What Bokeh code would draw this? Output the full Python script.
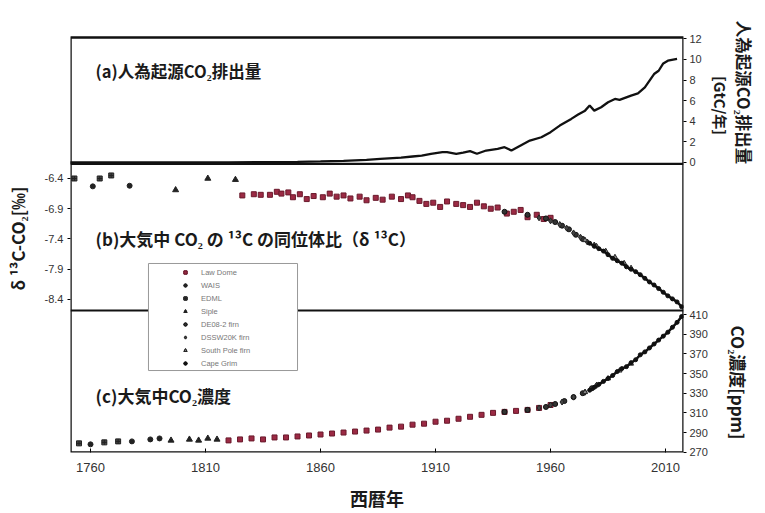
import math
from bokeh.plotting import figure
from bokeh.layouts import row
from bokeh.models import (Range1d, LinearAxis, FixedTicker, CustomJSTickFormatter,
                          PrintfTickFormatter, Span, BoxAnnotation, Label, Legend, LegendItem)
from bokeh.embed import file_html
from bokeh.resources import INLINE

# ---------------- data ----------------
# (a) anthropogenic CO2 emissions [GtC/yr]
em_years = [1751, 1780, 1800, 1820, 1840, 1850, 1860, 1870, 1880, 1886, 1895, 1900, 1904,
            1908, 1913, 1915, 1919, 1922, 1925, 1928, 1932, 1937, 1940, 1943, 1947, 1951,
            1956, 1960, 1964, 1969, 1972, 1975, 1977, 1979, 1982, 1985, 1988, 1990, 1995,
            1998, 2001, 2005, 2007, 2009, 2011, 2015]
em_vals = [0.0, 0.01, 0.01, 0.02, 0.04, 0.06, 0.10, 0.15, 0.25, 0.36, 0.48, 0.58, 0.66,
           0.84, 1.00, 1.00, 0.84, 0.95, 1.10, 0.85, 1.16, 1.32, 1.48, 1.16, 1.65, 2.13,
           2.45, 2.94, 3.58, 4.23, 4.65, 5.03, 5.52, 5.03, 5.36, 5.84, 6.16, 6.07, 6.49,
           6.71, 7.29, 8.58, 8.90, 9.61, 9.87, 10.04]

series_names = ["Law Dome", "WAIS", "EDML", "Siple", "DE08-2 firn", "DSSW20K firn",
                "South Pole firn", "Cape Grim"]

# (b) delta 13C of atmospheric CO2 [permil]
d13_years = {
    "Law Dome": [1826, 1831, 1834, 1838, 1841, 1843, 1846, 1848, 1851, 1854, 1857, 1861, 1864,
                 1867, 1870, 1873, 1877, 1880, 1884, 1887, 1891, 1895, 1898, 1900, 1903, 1906,
                 1909, 1912, 1915, 1919, 1922, 1925, 1928, 1931, 1934, 1937, 1941, 1944, 1947,
                 1950, 1954, 1957, 1960],
    "WAIS": [1761, 1777],
    "EDML": [1753, 1764, 1769],
    "Siple": [1797, 1811, 1823],
    "DE08-2 firn": [1940, 1950, 1958, 1962, 1965, 1968, 1971, 1974],
    "DSSW20K firn": [1955, 1960, 1964, 1967, 1970, 1973, 1976, 1979],
    "South Pole firn": [1975, 1980, 1984, 1988, 1992, 1995],
    "Cape Grim": [1977, 1979, 1981, 1983, 1985, 1987, 1989, 1991, 1993, 1995, 1997, 1999,
                  2001, 2003, 2005, 2007, 2009, 2011, 2013, 2015, 2017],
}
d13_vals = {
    "Law Dome": [-6.68, -6.66, -6.67, -6.67, -6.62, -6.65, -6.63, -6.71, -6.66, -6.74, -6.69,
                 -6.71, -6.65, -6.70, -6.68, -6.73, -6.70, -6.76, -6.72, -6.75, -6.70, -6.74,
                 -6.68, -6.71, -6.77, -6.82, -6.80, -6.87, -6.78, -6.82, -6.84, -6.87, -6.80,
                 -6.86, -6.90, -6.88, -6.98, -6.95, -6.92, -7.04, -7.00, -7.07, -7.05],
    "WAIS": [-6.53, -6.52],
    "EDML": [-6.40, -6.40, -6.35],
    "Siple": [-6.59, -6.40, -6.42],
    "DE08-2 firn": [-6.95, -7.00, -7.06, -7.12, -7.18, -7.24, -7.33, -7.40],
    "DSSW20K firn": [-7.05, -7.10, -7.16, -7.22, -7.30, -7.37, -7.45, -7.50],
    "South Pole firn": [-7.42, -7.52, -7.60, -7.70, -7.80, -7.88],
    "Cape Grim": [-7.47, -7.52, -7.56, -7.60, -7.66, -7.72, -7.76, -7.80, -7.86, -7.90, -7.94,
                  -7.99, -8.05, -8.11, -8.16, -8.22, -8.28, -8.34, -8.39, -8.44, -8.52],
}

# (c) atmospheric CO2 concentration [ppm]
co2_years = {
    "Law Dome": [1820, 1825, 1830, 1835, 1840, 1845, 1850, 1855, 1860, 1865, 1870, 1875, 1880,
                 1885, 1890, 1895, 1900, 1905, 1910, 1915, 1920, 1925, 1930, 1935, 1940, 1945,
                 1950, 1955, 1960],
    "WAIS": [1760, 1778, 1786, 1790],
    "EDML": [1755, 1766, 1772],
    "Siple": [1795, 1803, 1807, 1811, 1815],
    "DE08-2 firn": [1940, 1950, 1958, 1962, 1966, 1970, 1974, 1978],
    "DSSW20K firn": [1955, 1960, 1965, 1970, 1975, 1980],
    "South Pole firn": [1975, 1980, 1985, 1990, 1995],
    "Cape Grim": [1977, 1979, 1981, 1983, 1985, 1987, 1989, 1991, 1993, 1995, 1997, 1999,
                  2001, 2003, 2005, 2007, 2009, 2011, 2013, 2015, 2017],
}
co2_vals = {
    "Law Dome": [282, 283, 284, 283, 285, 285, 286, 287, 288, 289, 290, 291, 292, 293, 295,
                 296, 298, 299, 301, 302, 304, 306, 308, 310, 311, 312, 313, 315, 318],
    "WAIS": [278, 281, 283, 284],
    "EDML": [279, 280, 281],
    "Siple": [282, 283, 282, 284, 283],
    "DE08-2 firn": [311, 313, 316, 319, 322, 326, 330, 335],
    "DSSW20K firn": [315, 318, 321, 326, 331, 338],
    "South Pole firn": [331, 338, 345, 353, 360],
    "Cape Grim": [333, 336, 339, 342, 345, 348, 352, 355, 357, 361, 364, 369, 372, 376, 380,
                  384, 388, 392, 397, 402, 408],
}

x_ticks = [1760, 1810, 1860, 1910, 1960, 2010]
em_ticks = [0, 2, 4, 6, 8, 10, 12]
d13_ticks = [-8.4, -7.9, -7.4, -6.9, -6.4]
co2_ticks = [270, 290, 310, 330, 350, 370, 390, 410]

# ---------------- styles ----------------
CJK = "Noto Sans CJK JP"
NUM = "Liberation Sans"
styles = {
    "Law Dome": dict(marker="square", size=5, fill_color="#9b2a44", line_color="#6a1a2c"),
    "WAIS": dict(marker="circle", size=5, fill_color="#222222", line_color="#222222"),
    "EDML": dict(marker="square_cross", size=5, fill_color="#444444", line_color="#222222"),
    "Siple": dict(marker="triangle", size=6, fill_color="#222222", line_color="#222222"),
    "DE08-2 firn": dict(marker="circle", size=5, fill_color="#333333", line_color="#111111"),
    "DSSW20K firn": dict(marker="diamond", size=6, fill_color="#444444", line_color="#222222"),
    "South Pole firn": dict(marker="triangle", size=5, fill_color="#888888", line_color="#222222"),
    "Cape Grim": dict(marker="circle", size=4, fill_color="#111111", line_color="#111111"),
}

FRAME_BOTTOM = 452          # frame spans page y 0..452; visible box starts at y=37
BOTTOM_BORDER = 60
X0, X1 = 1751.3, 2017.8
B0, B1 = -10.929, -3.458    # panel b scale
B_TOP = -4.069              # visible top edge of the box
A0, A1 = -28.13, 15.713     # panel a scale
C0, C1 = 269.7, 729.24      # panel c scale

p = figure(frame_width=613, frame_height=FRAME_BOTTOM, min_border_left=40,
           min_border_right=26, min_border_top=0, min_border_bottom=BOTTOM_BORDER,
           x_range=Range1d(X0, X1), y_range=Range1d(B0, B1),
           output_backend="svg", toolbar_location=None)
p.extra_y_ranges = {"a": Range1d(A0, A1), "c": Range1d(C0, C1)}
p.xgrid.visible = False
p.ygrid.visible = False
p.outline_line_color = None
p.background_fill_color = "white"
p.border_fill_color = "white"

# bottom axis
xa = p.xaxis[0]
xa.ticker = FixedTicker(ticks=x_ticks)
xa.major_label_text_font = NUM
xa.major_label_text_font_size = "13px"
xa.major_label_text_color = "#333333"
xa.major_tick_in = 4
xa.major_tick_out = 0
xa.major_label_standoff = 10
xa.minor_tick_line_color = None
xa.axis_line_color = None
xa.axis_label = "西暦年"
xa.axis_label_text_font = CJK
xa.axis_label_text_font_size = "18px"
xa.axis_label_text_font_style = "bold"
xa.axis_label_text_color = "#1a1a1a"
xa.axis_label_standoff = 10

# left axis (panel b)
ya = p.yaxis[0]
ya.ticker = FixedTicker(ticks=d13_ticks)
ya.formatter = PrintfTickFormatter(format="%.1f")
ya.major_label_text_font = NUM
ya.major_label_text_font_size = "11px"
ya.major_label_text_color = "#333333"
ya.major_tick_in = 0
ya.major_tick_out = 3
ya.major_label_standoff = 4
ya.minor_tick_line_color = None
ya.axis_line_color = None

# right axis: panel a ticks and panel c ticks on one axis in "c" coordinates
def a_to_c(v):
    return C0 + (v - A0) / (A1 - A0) * (C1 - C0)

right_ticks = co2_ticks + [a_to_c(v) for v in em_ticks]
ra = LinearAxis(y_range_name="c", ticker=FixedTicker(ticks=right_ticks),
                formatter=CustomJSTickFormatter(
                    args=dict(a0=A0, a1=A1, c0=C0, c1=C1, lim=max(co2_ticks) + 5),
                    code="""
                    if (tick <= lim) { return tick.toFixed(0) }
                    const v = a0 + (tick - c0) / (c1 - c0) * (a1 - a0)
                    return Math.round(v).toString()
                    """))
ra.major_label_text_font = NUM
ra.major_label_text_font_size = "11px"
ra.major_label_text_color = "#333333"
ra.major_tick_in = 0
ra.major_tick_out = 3
ra.major_label_standoff = 3
ra.minor_tick_line_color = None
ra.axis_line_color = None
p.add_layout(ra, "right")

# panel (a)
p.line(em_years, em_vals, y_range_name="a", line_width=2.3, line_color="#111111")

# panels (b) and (c)
items = []
for name in series_names:
    st = styles[name]
    if name == "Cape Grim":
        p.line(d13_years[name], d13_vals[name], line_width=2.5, line_color="#111111")
        p.line(co2_years[name], co2_vals[name], y_range_name="c", line_width=2.5,
               line_color="#111111")
    rb = p.scatter(d13_years[name], d13_vals[name], **st)
    rc = p.scatter(co2_years[name], co2_vals[name], y_range_name="c", **st)
    items.append(LegendItem(label=name, renderers=[rb, rc]))

# visible plot box and panel boundaries
p.add_layout(BoxAnnotation(left=X0, right=X1, bottom=B0, top=B_TOP, fill_alpha=0,
                           line_color="#111111", line_alpha=1.0, line_width=2.5))
p.add_layout(Span(location=-6.160, dimension="width", line_color="#111111", line_width=2.2))
p.add_layout(Span(location=-8.582, dimension="width", line_color="#111111", line_width=2.2))

# legend box and legend
p.add_layout(BoxAnnotation(left=1785.2, right=1850.0, bottom=-9.574, top=-7.805,
                           fill_color="white", fill_alpha=1.0, line_color="#999999",
                           line_alpha=1.0, line_width=1))
legend = Legend(items=items, location=(111, 84), padding=2, spacing=3, label_height=10,
                glyph_height=10, glyph_width=8, label_standoff=12,
                label_text_font=NUM, label_text_font_size="7.5px", label_text_color="#777777",
                border_line_color=None, background_fill_alpha=0, margin=0)
p.add_layout(legend)

# panel titles
common = dict(text_font=CJK, text_font_style="bold", text_color="#1a1a1a",
              text_baseline="middle")
p.add_layout(Label(x=1762.2, y=8.92, y_range_name="a", text="(a)人為起源CO₂排出量",
                   text_font_size="16.5px", **common))
p.add_layout(Label(x=1762.2, y=-7.392, text="(b)大気中 CO₂ の ¹³C の同位体比（δ ¹³C）",
                   text_font_size="17px", **common))
p.add_layout(Label(x=1762.2, y=327.65, y_range_name="c", text="(c)大気中CO₂濃度",
                   text_font_size="17px", **common))


# side strips holding the vertical axis titles (y coordinates = page pixels)
def side_strip(width):
    f = figure(width=width, frame_height=FRAME_BOTTOM, min_border_left=0, min_border_right=0,
               min_border_top=0, min_border_bottom=BOTTOM_BORDER,
               x_range=Range1d(0, width), y_range=Range1d(FRAME_BOTTOM, 0),
               x_axis_location=None, y_axis_location=None,
               output_backend="svg", toolbar_location=None)
    f.xgrid.visible = False
    f.ygrid.visible = False
    f.outline_line_color = None
    f.background_fill_color = "white"
    f.border_fill_color = "white"
    return f


left = side_strip(30)
left.add_layout(Label(x=17, y=238, text="δ ¹³C-CO₂[‰]", angle=math.pi / 2,
                      text_align="center", text_font_size="17px", **common))

right = side_strip(48)
right.add_layout(Label(x=33, y=92, text="人為起源CO₂排出量", angle=-math.pi / 2,
                       text_align="center", text_font_size="16.5px", **common))
right.add_layout(Label(x=10, y=105, text="[GtC/年]", angle=-math.pi / 2,
                       text_align="center", text_font_size="15px", **common))
right.add_layout(Label(x=28, y=382, text="CO₂濃度[ppm]", angle=-math.pi / 2,
                       text_align="center", text_font_size="17px", **common))

layout = row(left, p, right, spacing=0)
open("out.html", "w").write(file_html(layout, INLINE))
